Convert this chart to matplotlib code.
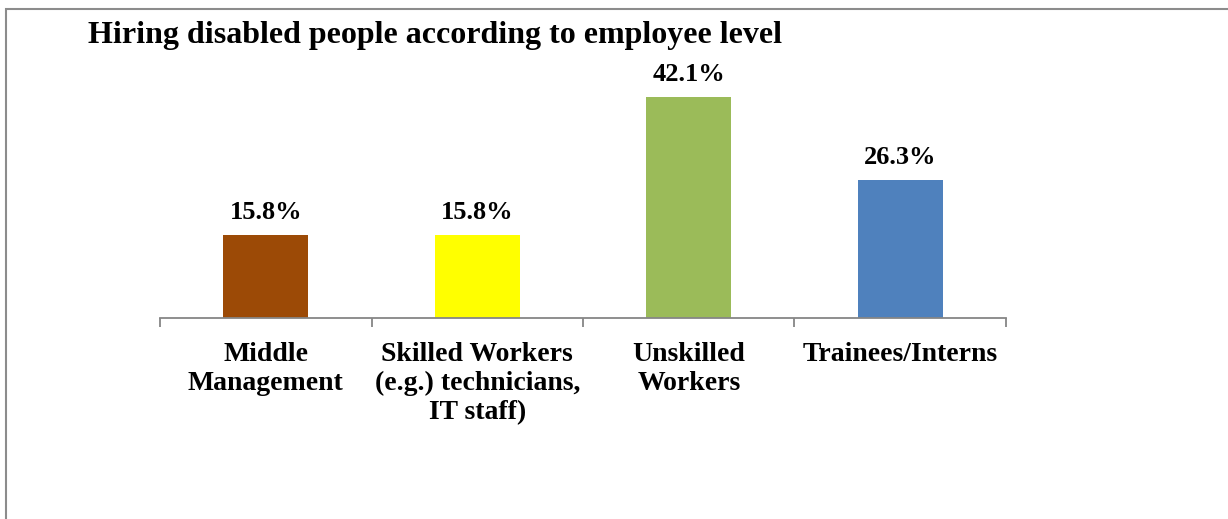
import matplotlib.pyplot as plt
from matplotlib.patches import Rectangle

categories = ["Middle\nManagement", "Skilled Workers\n(e.g.) technicians,\nIT staff)",
              "Unskilled\nWorkers", "Trainees/Interns"]
values = [15.8, 15.8, 42.1, 26.3]
colors = ["#9C4A06", "#FFFF00", "#9BBB59", "#4F81BD"]
title = "Hiring disabled people according to employee level"

plt.rcParams["font.family"] = ["Liberation Serif", "DejaVu Serif"]

fig = plt.figure(figsize=(12.28, 5.19), dpi=100)
# chart frame (only top and left edges visible in the crop)
fig.patches.append(Rectangle((6 / 1228, -0.1), 1.2, (519 - 9) / 519 + 0.1,
                             transform=fig.transFigure, fill=False,
                             edgecolor="#8c8c8c", linewidth=1.5))

ax = fig.add_axes([160 / 1228, (519 - 318) / 519, 846 / 1228, 236 / 519])
x = range(len(values))
bars = ax.bar(x, values, width=0.40, color=colors)
for b, v in zip(bars, values):
    ax.text(b.get_x() + b.get_width() / 2, v + 3.0, f"{v}%", ha="center",
            va="baseline", fontsize=19, fontweight="bold")

ax.set_xlim(-0.5, 3.5)
ax.set_ylim(0, 45)
for s in ["top", "right", "left"]:
    ax.spines[s].set_visible(False)
ax.spines["bottom"].set_color("#868686")
ax.spines["bottom"].set_linewidth(1.3)
ax.set_yticks([])
ax.set_xticks([-0.5, 0.5, 1.5, 2.5, 3.5])
ax.set_xticklabels([])
ax.tick_params(axis="x", length=6.5, width=1.3, color="#868686")
ax.set_xticks(list(x), minor=True)
ax.set_xticklabels(categories, minor=True, fontsize=20, fontweight="bold",
                   linespacing=1.22, va="top")
ax.tick_params(axis="x", which="minor", length=0, pad=17)

fig.text(88 / 1228, 1 - 43 / 519, title, fontsize=23, fontweight="bold",
         ha="left", va="baseline")

fig.savefig("out.png", dpi=100)
